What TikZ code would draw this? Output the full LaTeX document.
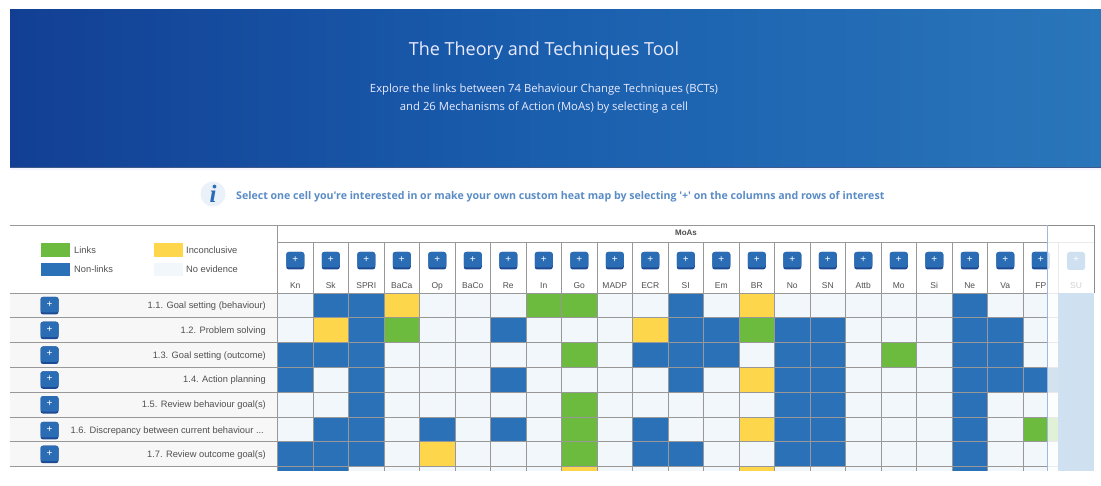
\documentclass[tikz,border=0pt]{standalone}
\usepackage{fontspec}
\setmainfont{Liberation Sans}
\newfontfamily\robo{Open Sans}
\definecolor{cb}{HTML}{2B71B8}
\definecolor{cg}{HTML}{6DBB3E}
\definecolor{cy}{HTML}{FDD64B}
\definecolor{cn}{HTML}{F1F7FB}
\definecolor{btn}{HTML}{2A6DB5}
\definecolor{btnd}{HTML}{1E4A94}
\definecolor{gridc}{HTML}{989898}
\definecolor{rowbg}{HTML}{F7F7F7}
\definecolor{txt}{HTML}{505050}
\definecolor{infoc}{HTML}{5A8CC6}
\definecolor{ovl}{HTML}{9DB9DE}
\definecolor{suc}{HTML}{CFE0F0}
\definecolor{bannerL}{HTML}{123F94}
\definecolor{bannerM}{HTML}{1A5FAE}
\definecolor{bannerR}{HTML}{2A76BA}
\tikzset{
  x=1pt,y=-1pt,
  lbl/.style={inner sep=0,font=\fontsize{9.3}{10}\selectfont,text=txt},
  collbl/.style={inner sep=0,anchor=base,font=\fontsize{8.5}{10}\selectfont,text=txt},
  plusbtn/.style={inner sep=0,font=\fontsize{10}{10}\selectfont,text=white},
  gridline/.style={draw=gridc,line width=0.8pt},
  banner/.style={inner sep=0,anchor=base,text=white!92!blue}
}
\newcommand{\drawbtn}[3]{% cx, cy, name
  \fill[btnd,rounded corners=2.5pt] (#1-9,#2-8.5) rectangle (#1+9,#2+9);
  \fill[btn,rounded corners=2.5pt] (#1-9,#2-8.5) rectangle (#1+9,#2+7);
  \node[plusbtn] (#3) at (#1,#2-1) {+};
}
\begin{document}
\begin{tikzpicture}
\useasboundingbox (0,0) rectangle (1101,486);
\fill[white] (0,0) rectangle (1101,486);
% banner
\fill[left color=bannerL,right color=bannerR,middle color=bannerM] (10,9.5) rectangle (1101,167.5);
\draw[color=black!25!bannerL!80!white,line width=1pt] (10,168) -- (1101,168);
\fill[blue!15!white,opacity=.25] (10,168.5) rectangle (1101,170.5);
\node[banner,font=\robo\fontsize{18}{20}\selectfont] (title) at (544,56) {The Theory and Techniques Tool};
\node[banner,font=\robo\fontsize{11.3}{13}\selectfont] (sub1) at (544,93) {Explore the links between 74 Behaviour Change Techniques (BCTs)};
\node[banner,font=\robo\fontsize{11.3}{13}\selectfont] (sub2) at (544,111) {and 26 Mechanisms of Action (MoAs) by selecting a cell};
% info line
\fill[infoc!12!white] (213,194) circle (12.5);
\node[inner sep=0,font=\fontsize{25}{25}\selectfont\bfseries\itshape,text=btn] (infoi) at (213,194) {\fontspec{Liberation Serif}i};
\node[inner sep=0,anchor=base west,font=\robo\bfseries\fontsize{10.6}{12}\selectfont,text=infoc] (info) at (236,199.5) {Select one cell you're interested in or make your own custom heat map by selecting '+' on the columns and rows of interest};
% left row backgrounds
\fill[rowbg] (10,293) rectangle (277.5,467.3);
% cell backgrounds
\fill[cn] (277.5,293) rectangle (1058,470.5);
% coloured cells
\foreach \r/\c/\k in {
 1/1/cb,1/2/cb,1/3/cy,1/7/cg,1/8/cg,1/11/cb,1/13/cy,1/19/cb,
 2/1/cy,2/2/cb,2/3/cg,2/6/cb,2/10/cy,2/11/cb,2/12/cb,2/13/cg,2/14/cb,2/15/cb,2/19/cb,2/20/cb,
 3/0/cb,3/1/cb,3/2/cb,3/8/cg,3/10/cb,3/11/cb,3/12/cb,3/14/cb,3/15/cb,3/17/cg,3/19/cb,3/20/cb,
 4/0/cb,4/2/cb,4/6/cb,4/11/cb,4/13/cy,4/14/cb,4/15/cb,4/19/cb,4/20/cb,4/21/cb,
 5/2/cb,5/8/cg,5/14/cb,5/15/cb,5/19/cb,
 6/1/cb,6/2/cb,6/4/cb,6/6/cb,6/8/cg,6/10/cb,6/13/cy,6/14/cb,6/15/cb,6/19/cb,6/21/cg,
 7/0/cb,7/1/cb,7/2/cb,7/4/cy,7/8/cg,7/10/cb,7/11/cb,7/14/cb,7/15/cb,7/19/cb}{
  \fill[\k] ({277.5+35.5*\c},{293+24.8*(\r-1)}) rectangle ({277.5+35.5*(\c+1)},{293+24.8*\r});
}
\foreach \c/\k in {0/cb,1/cb,8/cy,13/cy,19/cb}{
  \fill[\k] ({277.5+35.5*\c},467.3) rectangle ({277.5+35.5*(\c+1)},470.5);
}
% grid
\foreach \r in {0,...,7}{
  \draw[gridline] (10,{293+24.8*\r}) -- (1058,{293+24.8*\r});
}
\draw[gridline] (10,225) -- (1094,225);
\draw[gridline] (277.5,242.5) -- (1058,242.5);
\foreach \c in {0,...,22}{
  \draw[gridline] ({277.5+35.5*\c},{\c==0?225:242.5}) -- ({277.5+35.5*\c},470.5);
}
\node[inner sep=0,font=\fontsize{8}{10}\selectfont\bfseries,text=black!70] (moas) at (686,232.5) {MoAs};
% legend
\fill[cg] (41,243.5) rectangle (70,257);
\fill[cb] (41,263) rectangle (70,276);
\fill[cy] (154,243.5) rectangle (182.5,257);
\fill[cn] (154,263) rectangle (182.5,276);
\node[lbl,anchor=base west] (lgL) at (74,253.5) {Links};
\node[lbl,anchor=base west] (lgN) at (74,272.5) {Non-links};
\node[lbl,anchor=base west] (lgI) at (186,253.5) {Inconclusive};
\node[lbl,anchor=base west] (lgE) at (186,272.5) {No evidence};
% column headers
\foreach \c/\t in {0/Kn,1/Sk,2/SPRI,3/BaCa,4/Op,5/BaCo,6/Re,7/In,8/Go,9/MADP,10/ECR,11/SI,12/Em,13/BR,14/No,15/SN,16/Attb,17/Mo,18/Si,19/Ne,20/Va,21/FP}{
  \pgfmathsetmacro{\cx}{277.5+35.5*(\c+0.5)}
  \drawbtn{\cx}{260.5}{cbtn\c}
  \node[collbl] (chead\c) at (\cx,288.5) {\t};
}
% row headers
\foreach \r/\t in {1/{1.1. Goal setting (behaviour)},2/{1.2. Problem solving},3/{1.3. Goal setting (outcome)},4/{1.4. Action planning},5/{1.5. Review behaviour goal(s)},7/{1.7. Review outcome goal(s)}}{
  \pgfmathsetmacro{\cy}{293+24.8*(\r-0.5)}
  \drawbtn{49.5}{\cy}{rbtn\r}
  \node[lbl,anchor=base east] (rlab\r) at (266,\cy+3.2) {\t};
}
\drawbtn{49.5}{430.4}{rbtn6}
\node[lbl,anchor=base east] (rlab6) at (264,433.6) {1.6. Discrepancy between current behaviour ...};
% selected-column overlay
\fill[white,opacity=.8] (1047.5,225) rectangle (1094,470.5);
\fill[suc] (1058,293) rectangle (1093.5,470.5);
\draw[gridline,black!45] (1094,225) -- (1094,293);
\draw[gridline,black!45] (1047.5,225) -- (1094,225);
\draw[ovl,line width=1.3pt] (1047.5,225) -- (1047.5,470.5);
\draw[black!8,line width=.6pt] (1058,242.5) -- (1094,242.5);
\fill[suc,rounded corners=2.5pt] (1067,252) rectangle (1085,270);
\node[plusbtn] (cbtn22) at (1076,260) {+};
\node[collbl,text=black!18] (chead22) at (1076,288.5) {SU};
\end{tikzpicture}
\end{document}
